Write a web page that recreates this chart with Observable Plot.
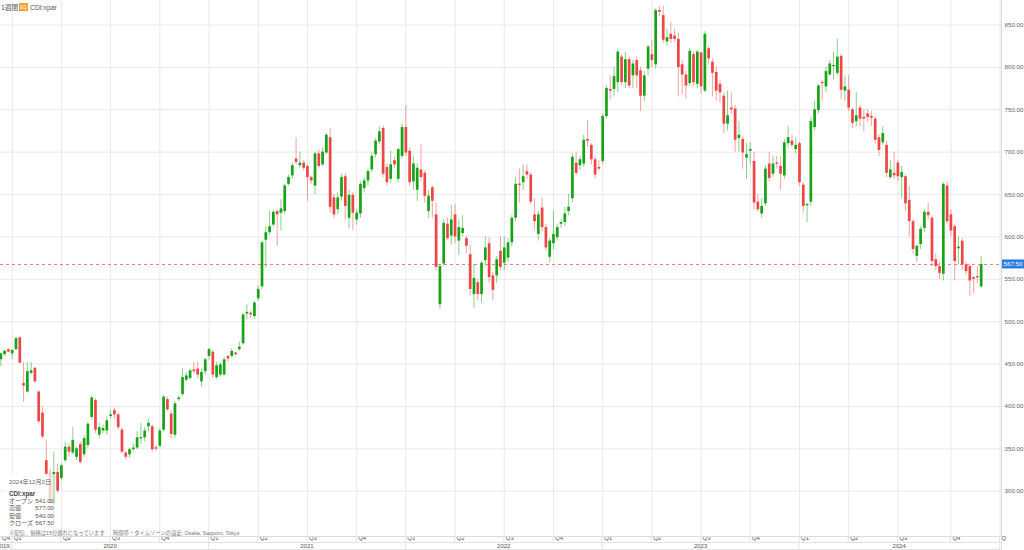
<!DOCTYPE html>
<html><head><meta charset="utf-8">
<script src="https://cdn.jsdelivr.net/npm/d3@7"></script>
<script src="https://cdn.jsdelivr.net/npm/@observablehq/plot@0.6"></script>
<style>
body{margin:0;background:#fff;}
#chart{position:relative;width:1024px;height:550px;overflow:hidden;}
#chart svg{display:block;}
</style></head><body><div id="chart"></div>
<script>
const symbol = "CDI:xpar";
const intervalLabel = "1週間";
const badgeLabel = "EQ";
const firstWeek = "2019-12-16";
const open = [455,461,467,462,467,481,427,417,439,445,417,392,336,320,285,322,315,336,352,345,340,355,343,354,387,407,366,371,371,388,395,390,372,345,343,349,351,362,363,376,376,351,353,372,408,391,366,408,414,431,433,443,444,429,441,459,464,434,437,437,459,459,463,467,474,509,510,506,527,541,596,605,614,630,628,630,662,672,692,684,687,683,670,660,698,685,699,717,646,632,647,671,622,649,620,627,657,666,679,697,712,728,682,668,690,668,695,729,701,665,655,679,675,630,658,626,520,568,615,601,626,595,604,598,579,532,546,532,572,592,554,554,583,569,575,593,622,662,664,677,673,626,603,634,611,576,592,599,615,617,630,645,687,684,686,715,708,691,682,689,742,774,774,782,812,782,809,790,808,796,766,798,815,803,867,861,830,839,837,833,803,791,781,815,780,817,772,822,806,794,780,766,733,752,751,716,715,693,701,689,641,627,639,686,674,687,683,672,710,713,703,710,661,637,641,729,749,782,777,791,801,793,813,772,773,750,736,752,741,745,742,739,717,711,708,670,675,687,670,671,643,618,577,591,610,629,622,573,565,556,660,626,612,586,595,567,565,552,553,541];
const high = [463,466,468,467,481,482,452,452,452,446,418,399,360,325,346,332,332,358,356,375,352,358,366,381,412,409,380,378,388,395,398,392,374,347,351,356,370,380,375,385,378,354,374,413,411,395,406,412,444,440,444,452,452,444,457,469,466,452,452,458,460,468,464,476,510,520,512,524,542,595,612,630,631,631,644,662,673,687,717,700,690,685,672,700,703,705,722,728,650,652,674,675,655,652,632,665,670,680,700,716,730,731,686,701,694,704,733,755,705,695,686,709,678,655,660,640,567,620,622,637,638,620,625,601,590,568,550,571,600,599,558,577,600,600,598,625,670,680,685,685,676,645,630,645,615,598,630,615,620,635,650,698,700,695,720,737,710,695,690,745,778,790,800,820,815,818,812,808,812,800,795,826,832,869,872,872,845,853,845,840,808,795,822,818,820,818,842,825,810,800,784,770,772,770,755,736,718,710,711,700,650,645,684,700,695,695,695,715,730,720,716,712,664,640,741,760,780,785,800,808,818,833,815,790,790,752,770,755,750,750,748,742,720,730,713,690,700,690,683,673,660,620,590,612,632,640,625,580,570,664,665,632,615,600,598,570,568,553,565,577];
const low = [447,459,463,455,466,450,405,416,437,428,380,362,318,268,262,298,313,334,340,343,336,332,340,350,384,368,362,368,366,385,385,372,344,337,339,347,349,355,358,370,346,347,351,370,394,362,362,406,412,429,431,438,433,423,437,455,433,432,435,436,452,457,460,465,472,502,504,503,524,538,563,602,611,589,607,627,660,668,685,681,678,642,662,650,680,683,697,628,622,626,642,620,609,607,614,622,652,660,676,693,709,670,660,663,680,664,692,695,660,655,642,665,640,622,622,560,514,565,596,590,592,578,600,580,530,516,525,522,565,545,525,545,560,560,570,588,618,640,655,668,638,608,595,606,583,570,585,595,610,612,625,640,672,678,682,705,685,668,678,685,740,762,765,770,778,775,775,775,775,748,760,790,800,798,860,828,825,828,830,765,768,763,778,778,775,768,770,803,765,760,758,722,725,745,700,700,680,668,685,632,630,622,636,665,670,680,655,668,705,705,698,660,628,617,636,725,745,760,770,790,785,790,762,760,748,728,730,730,724,735,730,710,695,708,670,668,668,665,645,630,600,580,570,585,605,620,565,560,550,548,615,600,548,567,560,555,530,533,545,540];
const close = [462,465,464,466,480,451,424,441,442,429,382,364,320,285,322,300,330,352,346,360,350,334,362,379,410,372,375,374,383,390,390,375,346,340,349,351,363,363,371,380,349,350,371,411,396,367,403,410,434,436,442,441,437,440,455,467,437,448,449,455,456,465,461,470,508,511,508,522,538,593,605,612,629,626,633,660,670,684,688,687,681,670,666,698,683,700,720,635,626,646,670,636,649,628,628,662,666,677,695,713,724,674,664,685,685,703,729,699,664,686,681,670,648,648,642,564,565,616,598,620,600,611,610,589,538,551,532,569,587,552,537,573,564,587,593,622,662,661,671,673,641,618,626,611,587,595,603,611,617,627,635,694,675,691,714,713,691,673,680,742,775,772,789,818,782,809,778,804,790,766,790,824,808,867,865,832,835,833,833,800,791,778,819,782,818,777,839,810,793,772,770,733,743,750,714,720,699,697,703,640,632,636,680,669,686,686,674,711,717,708,708,664,636,638,736,750,778,781,795,804,802,812,773,777,752,734,743,739,739,741,740,714,702,722,675,679,672,671,676,639,618,585,589,609,629,625,571,565,557,662,618,607,571,588,567,559,548,550,552,567.5];
const yTicks = [300,350,400,450,500,550,600,650,700,750,800,850];
const quarterTicks = ["2019-10-07","2020-01-06","2020-04-06","2020-07-06","2020-10-05","2021-01-04","2021-04-05","2021-07-05","2021-10-04","2022-01-03","2022-04-04","2022-07-04","2022-10-03","2023-01-02","2023-04-03","2023-07-03","2023-10-02","2024-01-01","2024-04-01","2024-07-01","2024-10-07","2025-01-06"];
const quarterLabels = ["Q4","Q1","Q2","Q3","Q4","Q1","Q2","Q3","Q4","Q1","Q2","Q3","Q4","Q1","Q2","Q3","Q4","Q1","Q2","Q3","Q4","Q"];
const yearLabels = ["2019","2020","2021","2022","2023","2024"];
const yearStarts = ["2020-01-06","2021-01-04","2022-01-03","2023-01-02","2024-01-01","2025-01-06"];
const infoDate = "2024年12月2日";
const infoRows = ["オープン","高値","安値","クローズ"];
const footnote1 = "※配信、価格は15分遅れになっています";
const footnote2 = "時間帯・タイムゾーンの設定: Osaka, Sapporo, Tokyo";

const UP = "#16a316", DOWN = "#ee4545";
const FONT = "'Liberation Sans','Noto Sans CJK JP',sans-serif";
const weekMs = 7 * 864e5;
const start = new Date(firstWeek);
const dates = open.map((_, i) => d3.utcDay.offset(start, 7 * i));
const candles = dates.map((date, i) => ({date, open: open[i], high: high[i], low: low[i], close: close[i]}));
const last = candles[candles.length - 1];
const xDomain = [new Date(+start - 0.0925 * weekMs), new Date(+start + 264.37 * weekMs)];
const col = d => d.close >= d.open ? UP : DOWN;
const bodyLo = d => { const lo = Math.min(d.open, d.close), hi = Math.max(d.open, d.close); const p = Math.max(0, (1.5 - (hi - lo)) / 2); return lo - p; };
const bodyHi = d => { const lo = Math.min(d.open, d.close), hi = Math.max(d.open, d.close); const p = Math.max(0, (1.5 - (hi - lo)) / 2); return hi + p; };
const qData = quarterTicks.map((t, i) => ({date: new Date(t), label: quarterLabels[i]}));
const qGrid = qData.filter(d => d.date >= xDomain[0]);

const chart = Plot.plot({
  width: 1024, height: 550,
  marginLeft: 0, marginRight: 23, marginTop: 0, marginBottom: 14,
  style: {fontFamily: FONT, background: "#fff"},
  x: {type: "utc", domain: xDomain, axis: null},
  y: {domain: [246.56, 878.9], axis: null},
  marks: [
    Plot.ruleY(yTicks, {stroke: "#e9e9e9", strokeWidth: 1}),
    Plot.ruleX(qGrid, {x: "date", stroke: "#e9e9e9", strokeWidth: 1}),
    Plot.ruleY([last.close], {stroke: "#ee7b7b", strokeWidth: 1, strokeDasharray: "3,3"}),
    Plot.ruleX(candles, {x: "date", y1: "low", y2: "high", stroke: col, strokeOpacity: 0.5, strokeWidth: 1}),
    Plot.ruleX(candles, {x: "date", y1: bodyLo, y2: bodyHi, stroke: col, strokeWidth: 2.7}),
    Plot.axisY({anchor: "right", ticks: yTicks, tickFormat: d => d.toFixed(2), tickSize: 0, tickPadding: 3, fontSize: 6.2, color: "#666"}),
    Plot.text(qData, {x: d => d.date < xDomain[0] ? xDomain[0] : d.date, text: "label", frameAnchor: "bottom", dy: 3.6, dx: 1.5, textAnchor: "start", fontSize: 6, fill: "#555"})
  ]
});

document.getElementById("chart").appendChild(chart);
const svg = d3.select(chart);
const xs = chart.scale("x"), ys = chart.scale("y");
const X = d => xs.apply(d);
const plotRight = 1001, plotBottom = 536;

const g = svg.append("g").attr("font-family", FONT).attr("text-anchor", "start");
g.append("line").attr("x1", 0).attr("x2", plotRight).attr("y1", plotBottom + 0.5).attr("y2", plotBottom + 0.5).attr("stroke", "#dcdcdc");
g.append("line").attr("x1", 0).attr("x2", plotRight).attr("y1", 542.5).attr("y2", 542.5).attr("stroke", "#e3e3e3");
g.append("line").attr("x1", 0).attr("x2", plotRight).attr("y1", 549.5).attr("y2", 549.5).attr("stroke", "#e3e3e3");
g.append("line").attr("x1", plotRight + 0.5).attr("x2", plotRight + 0.5).attr("y1", 0).attr("y2", 550).attr("stroke", "#dcdcdc");
qGrid.forEach(d => {
  g.append("line").attr("x1", X(d.date)).attr("x2", X(d.date)).attr("y1", plotBottom).attr("y2", 542).attr("stroke", "#e3e3e3");
});
const ys0 = yearStarts.map(s => new Date(s));
ys0.forEach(d => {
  g.append("line").attr("x1", X(d)).attr("x2", X(d)).attr("y1", 542).attr("y2", 550).attr("stroke", "#e3e3e3");
});
yearLabels.forEach((lab, k) => {
  let x, anchor = "middle";
  if (k === 0) { x = X(ys0[0]) - 2; anchor = "end"; }
  else { x = (X(ys0[k - 1]) + X(ys0[k])) / 2; }
  g.append("text").attr("x", x).attr("y", 548.2).attr("text-anchor", anchor).attr("font-size", 6).attr("fill", "#555").text(lab);
});

// price label
const py = ys.apply(last.close);
g.append("rect").attr("x", 1002).attr("y", py - 4.5).attr("width", 22).attr("height", 9).attr("fill", "#2a7de1");
g.append("text").attr("x", 1003.5).attr("y", py + 2.2).attr("font-size", 6.2).attr("fill", "#fff").text(last.close.toFixed(2));

// header
g.append("text").attr("x", 1).attr("y", 9.5).attr("font-size", 6.8).attr("fill", "#555").text(intervalLabel);
g.append("rect").attr("x", 19).attr("y", 3).attr("width", 9).attr("height", 8).attr("fill", "#f0a030");
g.append("text").attr("x", 23.5).attr("y", 9).attr("text-anchor", "middle").attr("font-size", 4.5).attr("fill", "#fff").text(badgeLabel);
g.append("text").attr("x", 30).attr("y", 9.5).attr("font-size", 6.8).attr("fill", "#555").text(symbol);

// info box
g.append("rect").attr("x", 5).attr("y", 474).attr("width", 51).attr("height", 55).attr("fill", "#fff").attr("fill-opacity", 0.72);
g.append("text").attr("x", 9).attr("y", 484).attr("font-size", 6.1).attr("fill", "#666").text(infoDate);
g.append("text").attr("x", 9).attr("y", 495.5).attr("font-size", 6.3).attr("font-weight", "bold").attr("fill", "#444").text(symbol);
const vals = [last.open, last.high, last.low, last.close];
infoRows.forEach((lab, k) => {
  const yy = 503 + k * 7.4;
  g.append("text").attr("x", 9).attr("y", yy).attr("font-size", 6.1).attr("fill", "#555").text(lab);
  g.append("text").attr("x", 54).attr("y", yy).attr("text-anchor", "end").attr("font-size", 6.1).attr("fill", "#555").text(vals[k].toFixed(2));
});
g.append("text").attr("x", 9).attr("y", 534.5).attr("font-size", 5.3).attr("fill", "#777").text(footnote1);
g.append("text").attr("x", 113).attr("y", 534.5).attr("font-size", 5.3).attr("fill", "#777").text(footnote2);
</script></body></html>
